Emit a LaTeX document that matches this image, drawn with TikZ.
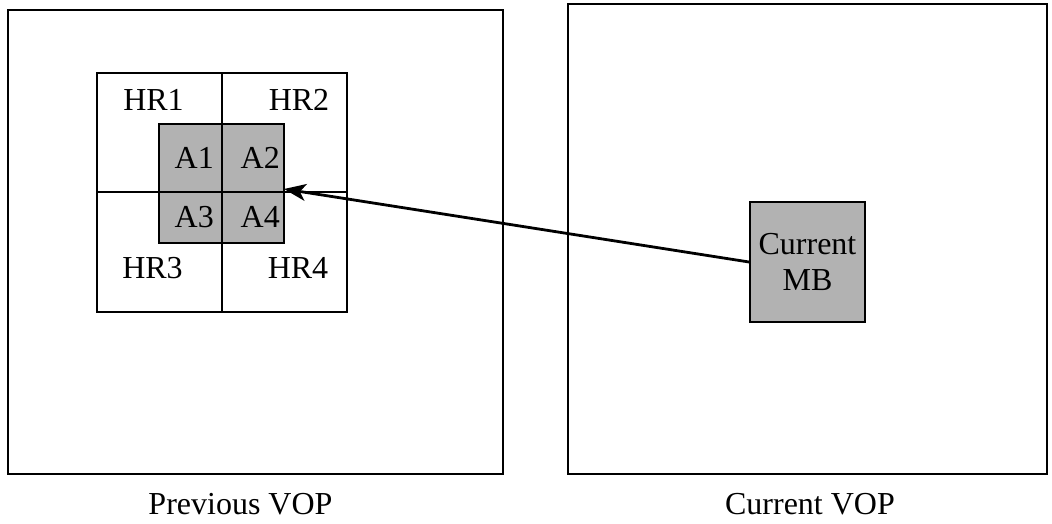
\documentclass[tikz,border=0pt]{standalone}
\usepackage{fontspec}
\setmainfont{Liberation Serif}
\usetikzlibrary{arrows.meta}
\begin{document}
\begin{tikzpicture}[x=1pt,y=-1pt,
  frame/.style={draw,line width=2pt},
  thin/.style={draw,line width=1.8pt},
  lab/.style={font=\fontsize{32}{30}\selectfont,inner sep=0pt,anchor=base},
  alab/.style={font=\fontsize{32}{30}\selectfont,inner sep=0pt,anchor=base east}]
\useasboundingbox (0,0) rectangle (1052,524);
% VOP frames
\draw[frame] (8,10) rectangle (503,474);
\draw[frame] (568,4) rectangle (1047,474);
% gray region
\fill[gray!60] (159,124) rectangle (284,243);
\draw[thin] (159,124) rectangle (284,243);
\coordinate (aeast) at (284,189);
% HR grid
\draw[thin] (97,73) rectangle (347,312);
\draw[thin] (222,73) -- (222,312);
\draw[thin] (97,192) -- (347,192);
% labels
\node[lab] (hr1) at (153.5,111) {HR1};
\node[lab] (hr2) at (299,111) {HR2};
\node[lab] (hr3) at (152.5,278) {HR3};
\node[lab] (hr4) at (298,278) {HR4};
\node[alab] (a1) at (214,168) {A1};
\node[alab] (a2) at (280,168) {A2};
\node[alab] (a3) at (214,227) {A3};
\node[alab] (a4) at (280,227) {A4};
% current MB
\node[draw,line width=2pt,fill=gray!60,minimum width=115pt,minimum height=120pt,inner sep=0pt,
  align=center,font=\fontsize{32}{36}\selectfont] (mb) at (807.5,262) {Current\\MB};
% arrow
\draw[line width=2.8pt,-{Stealth[length=22pt,width=17pt,inset=6pt]}] (mb.west) -- (aeast);
% captions
\node[lab] (cprev) at (240.5,514) {Previous VOP};
\node[lab] (ccur) at (810,514) {Current VOP};
\end{tikzpicture}
\end{document}
